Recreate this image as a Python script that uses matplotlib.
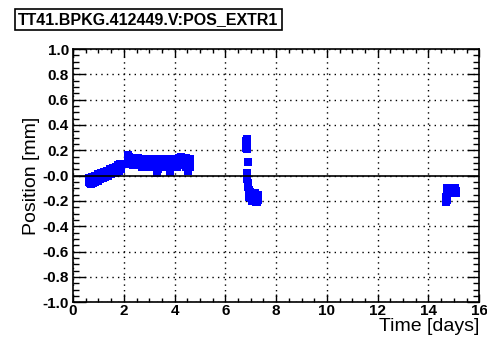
import matplotlib
matplotlib.use("Agg")
import matplotlib.pyplot as plt
from matplotlib.ticker import MultipleLocator

plt.rcParams['font.family'] = ['Liberation Sans', 'DejaVu Sans']

TITLE = "TT41.BPKG.412449.V:POS_EXTR1"

# first block, slow drift upwards
t1 = [0.62, 0.66, 0.70, 0.74, 0.78, 0.82, 0.86, 0.90, 0.94, 0.98, 1.02, 1.06,
      1.10, 1.14, 1.18, 1.22, 1.26, 1.30, 1.34, 1.38, 1.42, 1.46, 1.50, 1.54,
      1.58, 1.62, 1.66, 1.70, 1.74, 1.78, 1.82, 1.86, 1.90]
v1_hi = [-0.02, -0.03, -0.02, -0.01, -0.02, -0.01, 0.00, -0.01, 0.00, 0.01, 0.01, 0.01,
         0.02, 0.02, 0.02, 0.03, 0.03, 0.03, 0.04, 0.04, 0.04, 0.05, 0.05, 0.05,
         0.06, 0.06, 0.06, 0.07, 0.07, 0.08, 0.08, 0.09, 0.09]
v1_lo = [-0.05, -0.06, -0.07, -0.06, -0.06, -0.05, -0.05, -0.04, -0.04, -0.04, -0.03, -0.03,
         -0.02, -0.02, -0.02, -0.01, -0.01, 0.00, 0.00, 0.00, 0.01, 0.01, 0.01, 0.02,
         0.02, 0.02, 0.03, 0.03, 0.03, 0.04, 0.04, 0.05, 0.05]

# second block, flat around +0.1
t2 = [2.15, 2.22, 2.29, 2.36, 2.43, 2.50, 2.57, 2.64, 2.71, 2.78, 2.85, 2.92,
      2.99, 3.06, 3.13, 3.20, 3.27, 3.34, 3.41, 3.48, 3.55, 3.62, 3.69, 3.76,
      3.83, 3.90, 3.97, 4.04, 4.11, 4.18, 4.25, 4.32, 4.39, 4.46, 4.53, 4.60]
v2_hi = [0.16, 0.15, 0.14, 0.14, 0.14, 0.13, 0.14, 0.13, 0.13, 0.13, 0.13, 0.13,
         0.13, 0.13, 0.12, 0.13, 0.12, 0.12, 0.13, 0.13, 0.12, 0.13, 0.13, 0.12,
         0.12, 0.13, 0.12, 0.12, 0.13, 0.14, 0.15, 0.14, 0.14, 0.14, 0.13, 0.13]
v2_lo = [0.11, 0.09, 0.09, 0.08, 0.08, 0.08, 0.08, 0.08, 0.07, 0.07, 0.08, 0.07,
         0.07, 0.08, 0.07, 0.07, 0.07, 0.07, 0.07, 0.08, 0.08, 0.07, 0.07, 0.08,
         0.07, 0.07, 0.08, 0.07, 0.07, 0.08, 0.08, 0.08, 0.08, 0.07, 0.08, 0.07]
t2_out = [3.30, 3.33, 3.82, 4.52]
v2_out = [0.02, 0.05, 0.03, 0.04]

# jump near day 7
t3 = [6.82, 6.85, 6.83, 6.87, 6.84, 6.88, 6.87, 6.86, 6.88, 6.90, 6.93, 6.96,
      7.00, 7.04, 7.08, 7.12, 7.16, 7.20, 7.25, 7.30, 7.05, 7.10, 6.95, 7.15,
      7.22, 7.28, 7.00, 7.18, 7.26]
v3 = [0.27, 0.25, 0.22, 0.21, 0.29, 0.11, 0.02, -0.03, -0.06, -0.09, -0.11, -0.13,
      -0.15, -0.16, -0.17, -0.19, -0.20, -0.19, -0.17, -0.19, -0.20, -0.15, -0.17, -0.14,
      -0.21, -0.15, -0.18, -0.16, -0.21]

# last block near day 15
t4 = [14.75, 14.80, 14.85, 14.90, 14.95, 15.00, 15.05, 15.10, 15.10, 14.75,
      14.70, 14.70, 14.72, 14.85, 15.00, 14.95, 15.05]
v4 = [-0.10, -0.12, -0.10, -0.13, -0.11, -0.12, -0.10, -0.12, -0.14, -0.14,
      -0.17, -0.21, -0.19, -0.14, -0.14, -0.14, -0.13]

fig = plt.figure(figsize=(4.87, 3.43), dpi=100)
ax = fig.add_axes([0.150, 0.119, 0.834, 0.738])

mk = dict(linestyle='none', marker='s', markersize=5.2, color='#0000ff', markeredgewidth=0)
ax.plot(t1, v1_hi, **mk)
ax.plot(t1, v1_lo, **mk)
ax.plot(t2, v2_hi, **mk)
ax.plot(t2, v2_lo, **mk)
ax.plot(t2_out, v2_out, **mk)
ax.plot(t3, v3, **mk)
ax.plot(t4, v4, **mk)

ax.set_xlim(0, 16)
ax.set_ylim(-1.0, 1.0)
ax.xaxis.set_major_locator(MultipleLocator(2))
ax.xaxis.set_minor_locator(MultipleLocator(0.5))
ax.yaxis.set_major_locator(MultipleLocator(0.2))
ax.yaxis.set_minor_locator(MultipleLocator(0.05))
ax.set_yticks([-1.0, -0.8, -0.6, -0.4, -0.2, 0.0, 0.2, 0.4, 0.6, 0.8, 1.0])
ax.set_yticklabels(['-1.0', '-0.8', '-0.6', '-0.4', '-0.2', '-0.0', '0.2', '0.4', '0.6', '0.8', '1.0'])

ax.grid(True, which='major', linestyle=(0, (1, 3)), color='black', linewidth=1.0)
ax.axhline(0, color='black', linewidth=1.2)

ax.tick_params(axis='x', which='major', direction='in', length=6, width=1,
               top=True, labelsize=11, pad=1)
ax.tick_params(axis='x', which='minor', direction='in', length=3, width=1, top=True)
ax.tick_params(axis='y', which='major', direction='in', length=9, width=1,
               right=True, labelsize=11, pad=3)
ax.tick_params(axis='y', which='minor', direction='in', length=4.5, width=1, right=True)
for lab in ax.get_xticklabels() + ax.get_yticklabels():
    lab.set_fontweight('bold')
for sp in ax.spines.values():
    sp.set_linewidth(1.2)

ax.set_xlabel('Time [days]', fontsize=14, loc='right', labelpad=0)
ax.set_ylabel('Position [mm]', fontsize=14, labelpad=2)

fig.text(0.037, 0.943, TITLE, fontsize=11.5, fontweight='bold', ha='left', va='center',
         bbox=dict(boxstyle='square,pad=0.2', facecolor='white', edgecolor='black', linewidth=1.2))

fig.savefig('out.png', dpi=100)
